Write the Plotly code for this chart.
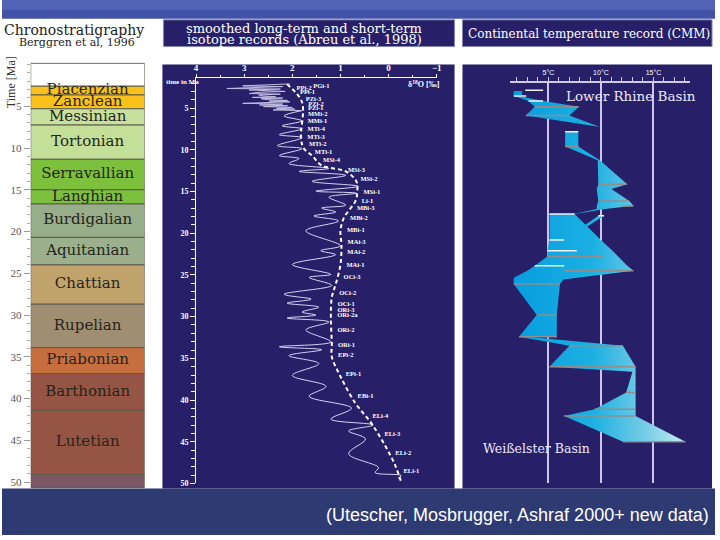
import plotly.graph_objects as go
import numpy as np

W, H = 720, 540
def fx(x): return x / W
def fy(y): return 1 - y / H

SERIF = "DejaVu Serif"
TSERIF = "Liberation Serif"
SANS = "Liberation Sans"

# ---------------- chronostratigraphy (Berggren et al., 1996), Ma ----------------
stage_names = ["", "Piacenzian", "Zanclean", "Messinian", "Tortonian", "Serravallian",
               "Langhian", "Burdigalian", "Aquitanian", "Chattian", "Rupelian",
               "Priabonian", "Barthonian", "Lutetian", ""]
stage_top = [-0.15, 2.6, 3.65, 5.3, 7.25, 11.35, 15.0, 16.7, 20.7, 24.0, 28.7, 33.9, 37.0, 41.4, 49.1]
stage_base = [2.6, 3.65, 5.3, 7.25, 11.35, 15.0, 16.7, 20.7, 24.0, 28.7, 33.9, 37.0, 41.4, 49.1, 50.7]
stage_colors = ["#ffffff", "#f8c21a", "#fbc21c", "#c7e09e", "#c4df98", "#7cc03c", "#7dc03e",
                "#98ad8a", "#9cb08e", "#c3a36c", "#a08e72", "#c76e3f", "#955444", "#955444", "#7b5763"]
time_ticks = [5, 10, 15, 20, 25, 30, 35, 40, 45, 50]

# ---------------- isotope records (Abreu et al., 1998) ----------------
# short-term record, high-frequency Pliocene part
st_hf_age = [2.1, 2.25, 2.34, 2.42, 2.52, 2.65, 2.72, 2.82, 2.93, 3.0, 3.1, 3.25, 3.33, 3.42,
             3.55, 3.63, 3.72, 3.8, 3.88, 4.0, 4.08, 4.16, 4.25, 4.35, 4.43, 4.52, 4.63, 4.72,
             4.82, 4.92, 5.03, 5.12, 5.22, 5.3]
st_hf_d18o = [2.05, 2.6, 3.03, 2.2, 2.75, 3.36, 2.25, 2.9, 2.45, 2.15, 2.68, 2.89, 2.25, 2.7,
              2.6, 2.35, 2.83, 2.2, 2.65, 2.5, 2.1, 2.48, 2.05, 2.7, 3.03, 2.2, 2.68, 2.1,
              2.6, 2.0, 2.33, 1.95, 2.4, 1.8]
# short-term record, smoothed older part
st_age = [5.3, 5.94, 6.53, 7.13, 7.48, 8.19, 8.55, 9.5, 9.86, 10.69, 11.05, 11.64, 12.23, 12.59,
          13.06, 13.78, 14.37, 14.96, 15.2, 15.68, 16.63, 16.98, 17.46, 17.93, 18.53, 19.71,
          21.5, 22.09, 22.57, 23.75, 24.94, 25.3, 26.25, 27.32, 27.91, 28.38, 28.86, 29.45,
          29.81, 30.17, 30.64, 31.59, 33.02, 33.61, 33.97, 34.68, 35.63, 37.05, 38.36, 39.55,
          40.97, 42.28, 42.99, 43.71, 44.66, 46.44, 48.1, 48.69, 49.05, 49.41]
st_d18o = [1.8, 2.17, 1.8, 2.21, 1.8, 2.27, 1.8, 2.31, 1.8, 2.27, 1.86, 2.07, 1.24, 1.86,
           0.89, 1.59, 0.63, 1.51, 0.67, 1.24, 0.89, 1.39, 1.1, 1.55, 1.04, 1.72,
           1.0, 1.41, 1.1, 2.0, 1.2, 1.65, 1.18, 2.17, 1.61, 2.11, 1.45, 1.8,
           1.51, 2.11, 1.24, 1.72, 1.2, 2.27, 1.39, 2.07, 1.45, 2.0, 1.3, 1.65,
           0.77, 1.2, 0.32, 0.83, 0.48, 0.83, 0.21, 0.28, -0.26, -0.2]
# long-term smoothed record
lt_age = [2.14, 4.28, 8.67, 9.86, 10.69, 11.88, 12.59, 13.78, 14.96, 16.15, 18.17, 19.71, 21.38,
          23.75, 26.13, 27.67, 30.05, 33.25, 34.8, 37.17, 40.38, 42.76, 45.49, 47.86, 50.0]
lt_d18o = [2.11, 1.8, 1.82, 1.76, 1.59, 1.39, 0.89, 0.67, 0.65, 0.69, 0.93, 1.0, 0.98,
           1.0, 1.1, 1.18, 1.2, 1.18, 1.18, 1.0, 0.69, 0.36, 0.07, -0.14, -0.27]
# glaciation events
ev_names = ["PGi-1", "PPi-2", "PPi-1", "PZi-3", "PZi-2", "PZi-1", "MMi-2", "MMi-1", "MTi-4",
            "MTi-3", "MTi-2", "MTi-1", "MSi-4", "MSi-3", "MSi-2", "MSi-1", "Li-1", "MBi-3",
            "MBi-2", "MBi-1", "MAi-3", "MAi-2", "MAi-1", "OCi-3", "OCi-2", "OCi-1", "ORi-3",
            "ORi-2a", "ORi-2", "ORi-1", "EPi-2", "EPi-1", "EBi-1", "ELi-4", "ELi-3", "ELi-2", "ELi-1"]
ev_age = [2.38, 2.61, 3.09, 3.92, 4.51, 4.99, 5.7, 6.65, 7.6, 8.55, 9.38, 10.33, 11.28, 12.47,
          13.54, 15.08, 16.15, 16.98, 18.17, 19.6, 21.14, 22.33, 23.87, 25.3, 27.2, 28.5, 29.2,
          29.9, 31.6, 33.5, 34.7, 36.9, 39.5, 42.0, 44.1, 46.4, 48.5]

# ---------------- continental temperature record (CMM, deg C) ----------------
seg1_age, seg1_lo, seg1_hi = [2.95, 3.45], [1.7, 1.7], [2.5, 2.5]
seg2_age = [3.55, 4.16, 4.83, 5.9, 7.24]
seg2_lo = [1.75, 3.1, 3.7, 2.85, 9.8]
seg2_hi = [2.2, 4.5, 7.9, 7.0, 9.85]
seg3_age = [7.84, 9.62, 11.25, 14.13, 14.7, 16.15, 16.7, 17.1, 17.7]
seg3_lo = [6.6, 6.6, 9.7, 9.75, 9.6, 9.75, 9.6, 9.6, 7.4]
seg3_hi = [7.85, 7.85, 9.9, 12.5, 11.0, 12.7, 13.1, 10.4, 7.5]
seg4_age, seg4_lo, seg4_hi = [17.9, 20.8], [9.75, 6.45], [10.3, 6.7]
seg5_age = [17.7, 20.8, 22.1, 22.8, 23.9, 24.5, 25.3, 25.55, 26.1, 29.8, 32.4]
seg5_lo = [5.1, 5.1, 4.9, 4.9, 3.7, 3.0, 1.75, 1.7, 1.7, 3.9, 2.2]
seg5_hi = [7.5, 10.0, 11.1, 11.65, 12.5, 13.1, 8.0, 6.45, 6.1, 5.8, 5.8]
seg6_age = [32.4, 33.5, 36.0, 36.6, 39.1, 41.1, 41.9, 45.0]
seg6_lo = [2.2, 7.0, 5.1, 13.0, 12.4, 9.4, 6.5, 12.1]
seg6_hi = [3.0, 12.1, 13.3, 13.3, 13.3, 13.3, 13.3, 18.05]
# horizontal flora bars: age, min, max, white(1)/grey(0)
bar_age = [2.85, 3.56, 4.16, 4.83, 5.9, 7.84, 9.62, 14.13, 16.15, 16.75, 17.7, 17.9, 20.8, 22.1,
           22.8, 23.9, 24.5, 26.1, 29.8, 32.4, 33.5, 36.0, 39.1, 41.1, 41.9, 45.0]
bar_lo = [2.8, 1.7, 3.1, 3.7, 2.85, 6.6, 6.6, 9.75, 9.75, 12.0, 5.1, 9.75, 5.1, 4.9,
          4.9, 3.7, 6.5, 1.7, 3.9, 2.2, 7.0, 5.1, 12.4, 9.4, 6.5, 12.1]
bar_hi = [4.5, 2.9, 4.5, 7.9, 7.0, 7.85, 7.85, 12.5, 12.7, 13.1, 7.5, 10.3, 6.5, 7.7,
          10.2, 6.5, 13.1, 6.1, 5.8, 5.8, 12.1, 13.3, 13.3, 13.3, 13.3, 18.05]
bar_white = [1, 1, 1, 0, 0, 1, 0, 0, 0, 0, 1, 1, 1, 1, 0, 1, 0, 0, 0, 0, 0, 0, 0, 0, 0, 0]

fig = go.Figure()

# ---- stage column ----
fig.add_trace(go.Bar(
    x=[0] * len(stage_names), y=[b - t for t, b in zip(stage_top, stage_base)], base=stage_top,
    width=1, marker=dict(color=stage_colors, line=dict(color="#5d5a4c", width=1)),
    xaxis="x", yaxis="y", hoverinfo="skip", showlegend=False))
lab = [(n, (t + b) / 2) for n, t, b in zip(stage_names, stage_top, stage_base) if n]
fig.add_trace(go.Scatter(
    x=[0] * len(lab), y=[m for _, m in lab], text=[n for n, _ in lab], mode="text",
    textfont=dict(family=SERIF, size=15, color="#25251a"), xaxis="x", yaxis="y",
    cliponaxis=False, showlegend=False, hoverinfo="skip"))

# ---- isotope panel ----
fig.add_trace(go.Scatter(x=st_hf_d18o, y=st_hf_age, mode="lines",
                         line=dict(color="#c4bee4", width=1), xaxis="x2", yaxis="y2",
                         showlegend=False, hoverinfo="skip"))
fig.add_trace(go.Scatter(x=st_d18o, y=st_age, mode="lines",
                         line=dict(color="#d9d4f4", width=1, shape="spline", smoothing=1.0),
                         xaxis="x2", yaxis="y2", showlegend=False, hoverinfo="skip"))
fig.add_trace(go.Scatter(x=lt_d18o, y=lt_age, mode="lines",
                         line=dict(color="white", width=2, dash="4px,3px", shape="spline"),
                         xaxis="x2", yaxis="y2", showlegend=False, hoverinfo="skip"))
ev_x = np.interp(ev_age, lt_age, lt_d18o) - 0.13
ev_x[0] -= 0.38
fig.add_trace(go.Scatter(x=ev_x, y=ev_age, text=ev_names, mode="text", textposition="middle right",
                         textfont=dict(family=TSERIF, size=6.5, color="white", weight="bold"),
                         xaxis="x2", yaxis="y2", cliponaxis=False, showlegend=False, hoverinfo="skip"))

# ---- temperature panel ----
px_, py_ = [], []
for a, lo, hi in [(seg1_age, seg1_lo, seg1_hi), (seg2_age, seg2_lo, seg2_hi),
                  (seg3_age, seg3_lo, seg3_hi), (seg4_age, seg4_lo, seg4_hi),
                  (seg5_age, seg5_lo, seg5_hi), (seg6_age, seg6_lo, seg6_hi)]:
    px_ += list(lo) + list(hi[::-1]) + [lo[0], None]
    py_ += list(a) + list(a[::-1]) + [a[0], None]
fig.add_trace(go.Scatter(
    x=px_, y=py_, mode="lines", fill="toself", line=dict(width=0, color="rgba(0,0,0,0)"),
    fillgradient=dict(type="horizontal", start=1.5, stop=18.5,
                      colorscale=[[0, "#069cdf"], [0.45, "#1cb0e2"], [0.75, "#79cde6"], [1, "#d4f1f3"]]),
    xaxis="x3", yaxis="y3", showlegend=False, hoverinfo="skip"))
for white, col, wd in [(0, "#8e8e8e", 1.5), (1, "#f2f2f2", 1.5)]:
    bx, by = [], []
    for a, lo, hi, w in zip(bar_age, bar_lo, bar_hi, bar_white):
        if w == white:
            bx += [lo, hi, None]
            by += [a, a, None]
    fig.add_trace(go.Scatter(x=bx, y=by, mode="lines", line=dict(color=col, width=wd),
                             xaxis="x3", yaxis="y3", showlegend=False, hoverinfo="skip"))

# ---------------- layout ----------------
PANEL = "#271f68"
shapes = [
    dict(type="rect", xref="paper", yref="paper", x0=0, x1=1, y0=fy(10), y1=1,
         fillcolor="#5363b6", line_width=0, layer="below"),
    dict(type="rect", xref="paper", yref="paper", x0=0, x1=1, y0=fy(19), y1=fy(10),
         fillcolor="#4252a6", line_width=0, layer="below"),
    dict(type="rect", xref="paper", yref="paper", x0=0, x1=1, y0=0, y1=fy(493),
         fillcolor="#2e3a72", line_width=0, layer="below"),
    dict(type="rect", xref="paper", yref="paper", x0=fx(163), x1=fx(457), y0=fy(47), y1=fy(20),
         fillcolor=PANEL, line=dict(color="#8a8ab0", width=1), layer="below"),
    dict(type="rect", xref="paper", yref="paper", x0=fx(465), x1=fx(717), y0=fy(47), y1=fy(20),
         fillcolor=PANEL, line=dict(color="#8a8ab0", width=1), layer="below"),
    dict(type="rect", xref="paper", yref="paper", x0=fx(162), x1=fx(457), y0=fy(493), y1=fy(65),
         fillcolor=PANEL, line_width=0, layer="below"),
    dict(type="rect", xref="paper", yref="paper", x0=fx(465), x1=fx(717), y0=fy(493), y1=fy(65),
         fillcolor=PANEL, line_width=0, layer="below"),
]

ann = [
    dict(text="Chronostratigraphy", x=fx(73), y=fy(30), font=dict(family=SERIF, size=14, color="#222")),
    dict(text="Berggren et al, 1996", x=fx(76), y=fy(43), font=dict(family=SERIF, size=11, color="#222")),
    dict(text="Time [Ma]", x=fx(9), y=fy(83), textangle=-90, font=dict(family=TSERIF, size=12, color="#333")),
    dict(text="smoothed long-term and short-term", x=fx(305), y=fy(28.5),
         font=dict(family=SERIF, size=13, color="white")),
    dict(text="isotope records (Abreu et al., 1998)", x=fx(305), y=fy(40),
         font=dict(family=SERIF, size=13, color="white")),
    dict(text="Continental temperature record (CMM)", x=fx(593), y=fy(34),
         font=dict(family=SERIF, size=12, color="white")),
    dict(text="time in Ma", x=fx(182), y=fy(83), font=dict(family=TSERIF, size=7, color="white", weight="bold")),
    dict(text="δ<sup>18</sup>O [‰]", x=fx(426), y=fy(85), font=dict(family=TSERIF, size=8, color="white", weight="bold")),
    dict(text="Lower Rhine Basin", x=fx(568), y=fy(97), xanchor="left",
         font=dict(family=SERIF, size=13.5, color="#ece8f8")),
    dict(text="Weißelster Basin", x=fx(484), y=fy(453), xanchor="left",
         font=dict(family=SERIF, size=12.5, color="#ece8f8")),
    dict(text="(Utescher, Mosbrugger, Ashraf 2000+ new data)", x=fx(716), y=fy(520), xanchor="right",
         font=dict(family=SANS, size=18, color="white")),
]
for a in ann:
    a.update(xref="paper", yref="paper", showarrow=False)
    a.setdefault("xanchor", "center")
    a.setdefault("yanchor", "middle")

fig.update_layout(
    width=W, height=H, margin=dict(l=0, r=0, t=0, b=0),
    paper_bgcolor="white", plot_bgcolor="rgba(0,0,0,0)", barmode="overlay",
    shapes=shapes, annotations=ann, showlegend=False,
    xaxis=dict(domain=[fx(29), fx(144)], range=[-0.5, 0.5], visible=False, fixedrange=True),
    yaxis=dict(domain=[fy(493), fy(63)], range=[50.76, -0.25], anchor="x",
               tickmode="array", tickvals=time_ticks, ticks="outside", ticklen=6, tickcolor="#999",
               minor=dict(tickmode="linear", tick0=0, dtick=1, ticklen=3, ticks="outside", tickcolor="#aaa"),
               tickfont=dict(family=TSERIF, size=11, color="#555"), showgrid=False, zeroline=False,
               showline=False),
    xaxis2=dict(domain=[fx(196), fx(439)], range=[4, -1], anchor="y2", side="top",
                tickmode="array", tickvals=[4, 3, 2, 1, 0, -1], ticks="outside", ticklen=3,
                tickcolor="white", showline=True, linecolor="white", linewidth=1,
                minor=dict(tickmode="linear", tick0=0, dtick=0.5, ticklen=2, ticks="outside", tickcolor="white"),
                tickfont=dict(family=TSERIF, size=9, color="white", weight="bold"),
                showgrid=False, zeroline=False),
    yaxis2=dict(domain=[fy(488), fy(79)], range=[50.0, 1.425], anchor="x2",
                tickmode="array", tickvals=time_ticks, ticks="outside", ticklen=5, tickcolor="white",
                minor=dict(tickmode="linear", tick0=0, dtick=1, ticklen=4, ticks="outside", tickcolor="white"),
                showline=True, linecolor="white", linewidth=1,
                tickfont=dict(family=TSERIF, size=8, color="white", weight="bold"),
                showgrid=False, zeroline=False),
    xaxis3=dict(domain=[fx(513), fx(695)], range=[1.35, 18.5], anchor="y3", side="top",
                tickmode="linear", tick0=0, dtick=5, ticksuffix="°C", ticks="outside", ticklen=4,
                tickcolor="#d0cae8", showline=True, linecolor="#d0cae8", linewidth=1.5,
                minor=dict(tickmode="linear", tick0=0, dtick=1, ticklen=4, ticks="outside", tickcolor="#d0cae8"),
                showgrid=True, gridcolor="#cdc6ea", gridwidth=2,
                tickfont=dict(family=SANS, size=7, color="white"), zeroline=False),
    yaxis3=dict(domain=[fy(488), fy(84)], range=[50.0, 2.02], anchor="x3", visible=False),
)

fig.write_html("out.html", config={"displayModeBar": False},
               post_script="document.documentElement.style.overflow='hidden';"
                           "document.body.style.margin='0';document.body.style.overflow='hidden';")
